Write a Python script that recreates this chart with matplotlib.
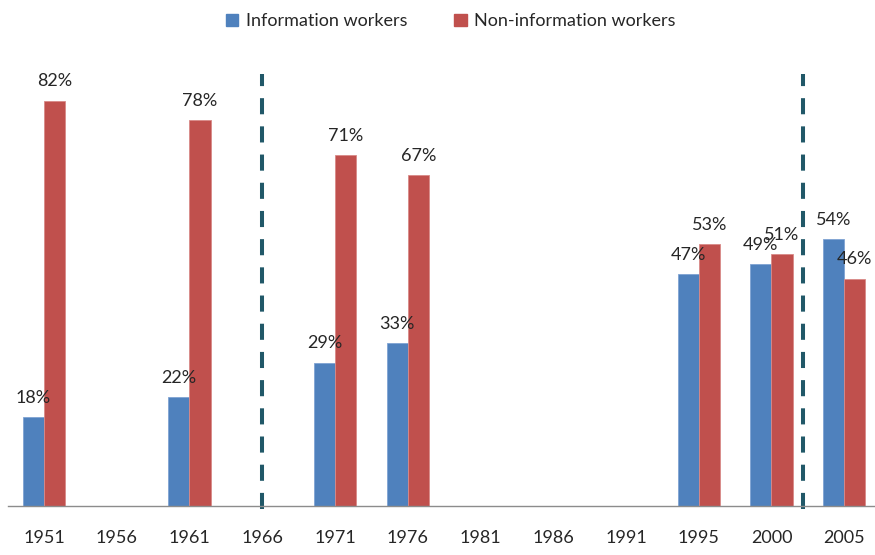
import numpy as np
import matplotlib.pyplot as plt
from matplotlib.patches import Patch

# dados
anos = ['1951', '1956', '1961', '1966', '1971', '1976', '1981', '1986', '1991', '1995', '2000', '2005']
info = [18, np.nan, 22, np.nan, 29, 33, np.nan, np.nan, np.nan, 47, 49, 54]
nao_info = [82, np.nan, 78, np.nan, 71, 67, np.nan, np.nan, np.nan, 53, 51, 46]
divisoes = [3, 10.44]  # posicoes das linhas tracejadas (indice de categoria)

AZUL = '#4F81BD'
VERMELHO = '#C0504D'
TEAL = '#215868'

plt.rcParams['font.family'] = ['Lato', 'DejaVu Sans']

fig = plt.figure(figsize=(8.75, 5.55), dpi=100)
ax = fig.add_axes([7.6 / 875, 49 / 555, 873 / 875, 445 / 555])

x = np.arange(len(anos))
w = 0.29
ax.bar(x - w / 2, info, w, color=AZUL, edgecolor='#7fa3d3', linewidth=0.6)
ax.bar(x + w / 2, nao_info, w, color=VERMELHO, edgecolor='#d98a88', linewidth=0.6)

# rotulos de porcentagem
for i in range(len(anos)):
    if not np.isnan(info[i]):
        ax.annotate(f'{info[i]:.0f}%', (x[i] - w / 2, info[i]), xytext=(0, 8),
                    textcoords='offset points', ha='center', va='bottom',
                    fontsize=13, color='#262626')
    if not np.isnan(nao_info[i]):
        ax.annotate(f'{nao_info[i]:.0f}%', (x[i] + w / 2, nao_info[i]), xytext=(0, 8),
                    textcoords='offset points', ha='center', va='bottom',
                    fontsize=13, color='#262626')

# linhas tracejadas verticais
for d in divisoes:
    ax.plot([d, d], [-0.6, 87.3], color=TEAL, lw=2.9, dashes=(4, 3), clip_on=False)

ax.set_xlim(-0.5, len(anos) - 0.5)
ax.set_ylim(0, 90)
ax.set_xticks(x)
ax.set_xticklabels(anos, fontsize=13, color='#262626')
ax.tick_params(axis='x', length=0, pad=17)
ax.set_yticks([])
for s in ['top', 'right', 'left']:
    ax.spines[s].set_visible(False)
ax.spines['bottom'].set_color('#8c8c8c')
ax.spines['bottom'].set_linewidth(1)

handles = [Patch(color=AZUL, label='Information workers'),
           Patch(color=VERMELHO, label='Non-information workers')]
fig.legend(handles=handles, loc='upper center', bbox_to_anchor=(0.515, 1.005), ncol=2,
           frameon=False, fontsize=13, handlelength=0.7, handleheight=0.7,
           handletextpad=0.4, columnspacing=2.6, labelcolor='#262626')

fig.savefig('out.png', dpi=100)
